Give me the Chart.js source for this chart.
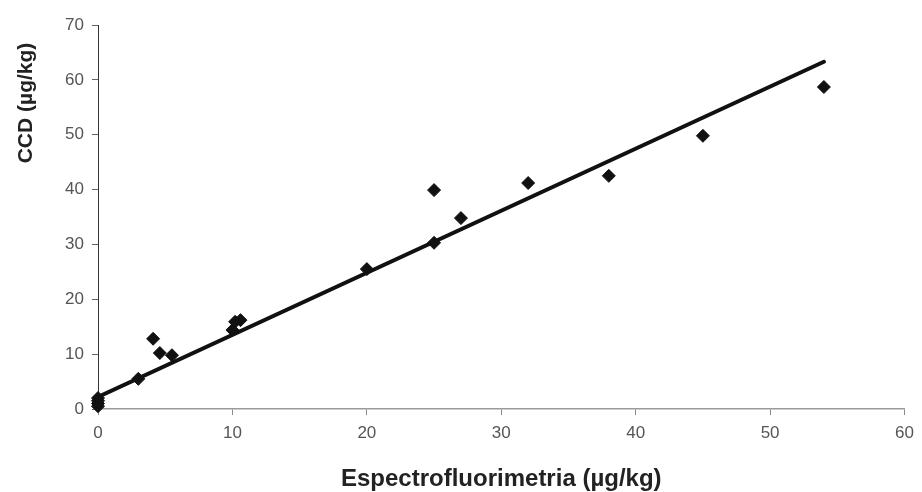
<!DOCTYPE html>
<html>
<head>
<meta charset="utf-8">
<script src="https://cdn.jsdelivr.net/npm/chart.js@4/dist/chart.umd.min.js"></script>
<style>
    html, body { margin: 0; padding: 0; background: #fff; }
    #wrap { width: 922px; height: 492px; position: relative; }
</style>
</head>
<body>
<div id="wrap"><canvas id="ccdChart"></canvas></div>
<script>
/* ======================================================
   DATA
====================================================== */
const espectroX = [0, 0, 0, 0, 3, 4.1, 4.6, 5.5, 10, 10.2, 10.6, 20, 25, 25, 27, 32, 38, 45, 54];
const ccdY      = [0.5, 1, 1.5, 2, 5.5, 12.8, 10.2, 9.8, 14.4, 15.9, 16.2, 25.5, 39.9, 30.3, 34.8, 41.2, 42.5, 49.8, 58.7];

const fitX = [0, 54];
const fitY = [2.2, 63.3];

const xTicks = [0, 10, 20, 30, 40, 50, 60];
const yTicks = [0, 10, 20, 30, 40, 50, 60, 70];

const xTitle = 'Espectrofluorimetria (µg/kg)';
const yTitle = 'CCD (µg/kg)';

const FONT = "'Liberation Sans', Arial, Helvetica, sans-serif";

/* ======================================================
   Y TITLE (sits above centre, like the original)
====================================================== */
const yTitlePlugin = {
    id: 'yTitle',
    afterDraw(chart) {
        const c = chart.ctx;
        c.save();
        c.translate(26, 103);
        c.rotate(-Math.PI / 2);
        c.font = `bold 21px ${FONT}`;
        c.fillStyle = '#222';
        c.textAlign = 'center';
        c.textBaseline = 'middle';
        c.fillText(yTitle, 0, 0);
        c.restore();
    }
};

/* ======================================================
   CHART
====================================================== */
const ctx = document.getElementById('ccdChart').getContext('2d');

new Chart(ctx, {
    type: 'scatter',
    data: {
        datasets: [
            {
                data: fitX.map((x, i) => ({ x, y: fitY[i] })),
                showLine: true,
                borderColor: '#111',
                borderWidth: 4,
                pointRadius: 0,
                borderCapStyle: 'round',
                order: 2
            },
            {
                data: espectroX.map((x, i) => ({ x, y: ccdY[i] })),
                pointStyle: 'rectRot',
                pointRadius: 6.5,
                backgroundColor: '#111',
                borderColor: '#111',
                borderWidth: 1,
                clip: false,
                order: 1
            }
        ]
    },
    options: {
        responsive: true,
        maintainAspectRatio: false,
        animation: false,
        layout: { padding: { top: 25, right: 17, bottom: 0, left: 0 } },
        plugins: {
            legend: { display: false },
            tooltip: { enabled: false }
        },
        scales: {
            x: {
                type: 'linear',
                min: 0,
                max: 60,
                afterFit: s => { s.height = 83; },
                afterBuildTicks: s => { s.ticks = xTicks.map(v => ({ value: v })); },
                border: { display: true, color: '#9a9a9a', width: 1.5 },
                grid: { drawOnChartArea: false, drawTicks: true, tickLength: 6, color: '#888' },
                ticks: {
                    padding: 8,
                    color: '#555',
                    font: { family: FONT, size: 17 },
                    maxRotation: 0
                },
                title: {
                    display: true,
                    text: xTitle,
                    color: '#222',
                    font: { family: FONT, size: 24, weight: 'bold', lineHeight: 1 },
                    padding: { top: 0, bottom: 1 }
                }
            },
            y: {
                type: 'linear',
                min: 0,
                max: 70,
                afterFit: s => { s.width = 98; },
                afterBuildTicks: s => { s.ticks = yTicks.map(v => ({ value: v })); },
                border: { display: true, color: '#333', width: 1 },
                grid: { drawOnChartArea: false, drawTicks: true, tickLength: 6, color: '#666' },
                ticks: {
                    padding: 8,
                    color: '#555',
                    font: { family: FONT, size: 17 }
                }
            }
        }
    },
    plugins: [yTitlePlugin]
});
</script>
</body>
</html>
